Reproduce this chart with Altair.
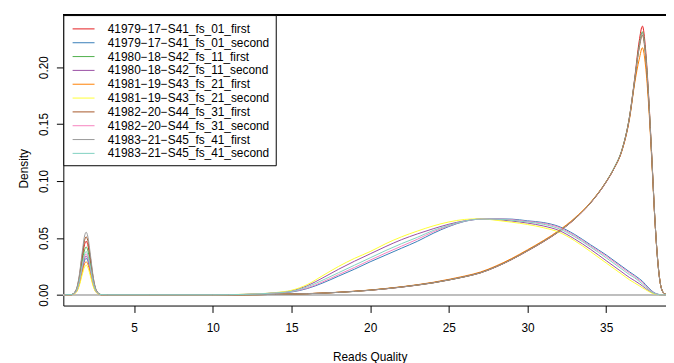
import altair as alt
import pandas as pd

QUALITY = [0.6, 1.0, 1.3, 1.5, 1.7, 1.85, 1.95, 2.05, 2.2, 2.4, 2.6, 2.9, 3.3,
           6, 10,
           12, 13, 14, 15, 16, 17, 18, 19, 20, 21, 22, 23, 24, 25, 26, 27, 28, 29, 30, 31, 32, 33, 34, 35,
           35.5, 36, 36.5, 36.8, 37.1, 37.3, 37.5, 37.7, 37.9, 38.1, 38.3, 38.5, 38.7, 38.9]

SERIES = [
    "41979\u221217\u2212S41_fs_01_first",
    "41979\u221217\u2212S41_fs_01_second",
    "41980\u221218\u2212S42_fs_11_first",
    "41980\u221218\u2212S42_fs_11_second",
    "41981\u221219\u2212S43_fs_21_first",
    "41981\u221219\u2212S43_fs_21_second",
    "41982\u221220\u2212S44_fs_31_first",
    "41982\u221220\u2212S44_fs_31_second",
    "41983\u221221\u2212S45_fs_41_first",
    "41983\u221221\u2212S45_fs_41_second",
]

COLORS = ["#E41A1C", "#377EB8", "#4DAF4A", "#984EA3", "#FF7F00",
          "#FFFF33", "#A65628", "#F781BF", "#999999", "#80D0C0"]

S41_FIRST = [0, 0.0002, 0.0035, 0.0135, 0.032, 0.0442, 0.047, 0.0442, 0.032, 0.0135, 0.0035, 0.0002, 0,
             0, 0,
             0.0001, 0.0002, 0.0004, 0.0007, 0.001, 0.0015, 0.0022, 0.003, 0.004, 0.0053, 0.0068, 0.0085,
             0.0105, 0.013, 0.0158, 0.0192, 0.0245, 0.031, 0.0385, 0.0465, 0.0555, 0.0665, 0.0805, 0.099,
             0.111, 0.127, 0.158, 0.189, 0.223, 0.236, 0.216, 0.174, 0.121, 0.065, 0.026, 0.006, 0.001, 0]
S41_SECOND = [0, 0.0001, 0.0024, 0.0092, 0.0218, 0.0301, 0.032, 0.0301, 0.0218, 0.0092, 0.0024, 0.0001, 0,
              0, 0,
              0.0003, 0.0008, 0.0015, 0.0025, 0.0055, 0.0105, 0.0165, 0.0225, 0.029, 0.035, 0.041, 0.047,
              0.054, 0.06, 0.0645, 0.0665, 0.0668, 0.0665, 0.065, 0.0635, 0.06, 0.053, 0.044, 0.035,
              0.03, 0.025, 0.02, 0.0172, 0.0142, 0.012, 0.009, 0.006, 0.0035, 0.0015, 0.0005, 0, 0, 0]
S42_FIRST = [0, 0.0002, 0.0031, 0.0121, 0.0286, 0.0395, 0.042, 0.0395, 0.0286, 0.0121, 0.0031, 0.0002, 0,
             0, 0,
             0.0001, 0.0002, 0.0004, 0.0007, 0.001, 0.0015, 0.0022, 0.003, 0.0041, 0.0054, 0.0069, 0.0086,
             0.0106, 0.0131, 0.0159, 0.0194, 0.0247, 0.0312, 0.0388, 0.0468, 0.0558, 0.0668, 0.0808, 0.0995,
             0.1115, 0.1275, 0.158, 0.188, 0.219, 0.231, 0.212, 0.172, 0.12, 0.065, 0.026, 0.006, 0.001, 0]
S42_SECOND = [0, 0.0001, 0.0025, 0.0098, 0.0231, 0.032, 0.034, 0.032, 0.0231, 0.0098, 0.0025, 0.0001, 0,
              0, 0,
              0.0004, 0.0009, 0.0018, 0.0035, 0.008, 0.015, 0.0225, 0.0295, 0.036, 0.0425, 0.0485, 0.0535,
              0.058, 0.062, 0.065, 0.0665, 0.066, 0.0648, 0.063, 0.0605, 0.0565, 0.049, 0.04, 0.03,
              0.025, 0.02, 0.015, 0.0125, 0.0098, 0.0078, 0.0056, 0.0036, 0.002, 0.0008, 0.0003, 0, 0, 0]
S43_FIRST = [0, 0.0001, 0.0021, 0.0084, 0.0197, 0.0273, 0.029, 0.0273, 0.0197, 0.0084, 0.0021, 0.0001, 0,
             0, 0,
             0.0001, 0.0002, 0.0004, 0.0008, 0.0011, 0.0016, 0.0023, 0.0032, 0.0042, 0.0056, 0.0071, 0.0089,
             0.011, 0.0136, 0.0165, 0.02, 0.0254, 0.032, 0.0396, 0.0476, 0.0566, 0.0675, 0.0812, 0.0995,
             0.111, 0.1265, 0.156, 0.185, 0.207, 0.217, 0.201, 0.166, 0.117, 0.064, 0.026, 0.006, 0.001, 0]
S43_SECOND = [0, 0.0001, 0.0019, 0.0075, 0.0177, 0.0244, 0.026, 0.0244, 0.0177, 0.0075, 0.0019, 0.0001, 0,
              0, 0,
              0.0005, 0.001, 0.002, 0.004, 0.009, 0.017, 0.025, 0.032, 0.038, 0.045, 0.051, 0.056,
              0.0605, 0.064, 0.0662, 0.0668, 0.0655, 0.0638, 0.0618, 0.059, 0.055, 0.0475, 0.038, 0.028,
              0.023, 0.018, 0.013, 0.0105, 0.008, 0.0062, 0.0046, 0.003, 0.0015, 0.0006, 0.0002, 0, 0, 0]
S44_FIRST = [0, 0.0002, 0.0038, 0.0147, 0.0347, 0.0479, 0.051, 0.0479, 0.0347, 0.0147, 0.0038, 0.0002, 0,
             0, 0,
             0.0001, 0.0002, 0.0004, 0.0007, 0.001, 0.0015, 0.0022, 0.0031, 0.0041, 0.0054, 0.0069, 0.0087,
             0.0107, 0.0132, 0.016, 0.0195, 0.0248, 0.0313, 0.0389, 0.0469, 0.0558, 0.0668, 0.0807, 0.0993,
             0.111, 0.127, 0.157, 0.187, 0.217, 0.228, 0.21, 0.17, 0.119, 0.065, 0.026, 0.006, 0.001, 0]
S44_SECOND = [0, 0.0001, 0.0027, 0.0104, 0.0245, 0.0338, 0.036, 0.0338, 0.0245, 0.0104, 0.0027, 0.0001, 0,
              0, 0,
              0.0003, 0.0008, 0.0016, 0.0028, 0.006, 0.0115, 0.0178, 0.024, 0.0305, 0.0368, 0.0428, 0.0488,
              0.0553, 0.0605, 0.0647, 0.0665, 0.0667, 0.066, 0.0645, 0.0628, 0.0592, 0.052, 0.043, 0.034,
              0.029, 0.024, 0.019, 0.0162, 0.013, 0.011, 0.008, 0.0052, 0.003, 0.0012, 0.0004, 0, 0, 0]
S45_FIRST = [0, 0.0002, 0.0041, 0.0158, 0.0374, 0.0517, 0.055, 0.0517, 0.0374, 0.0158, 0.0041, 0.0002, 0,
             0, 0,
             0.0001, 0.0002, 0.0004, 0.0007, 0.001, 0.0015, 0.0022, 0.003, 0.004, 0.0053, 0.0068, 0.0086,
             0.0106, 0.0131, 0.0159, 0.0193, 0.0246, 0.0311, 0.0387, 0.0467, 0.0557, 0.0667, 0.0806, 0.0992,
             0.1112, 0.1272, 0.1575, 0.188, 0.218, 0.23, 0.212, 0.172, 0.12, 0.065, 0.026, 0.006, 0.001, 0]
S45_SECOND = [0, 0.0002, 0.0028, 0.0109, 0.0258, 0.0357, 0.038, 0.0357, 0.0258, 0.0109, 0.0028, 0.0002, 0,
              0, 0,
              0.0004, 0.0009, 0.0017, 0.003, 0.007, 0.013, 0.0195, 0.026, 0.0325, 0.039, 0.045, 0.0505,
              0.0565, 0.061, 0.0648, 0.0665, 0.0665, 0.0655, 0.064, 0.062, 0.058, 0.051, 0.042, 0.0325,
              0.0275, 0.0225, 0.0175, 0.015, 0.0118, 0.0095, 0.007, 0.0045, 0.0025, 0.001, 0.0004, 0, 0, 0]

X_TICKS = [5, 10, 15, 20, 25, 30, 35]
Y_TICKS = [0.0, 0.05, 0.10, 0.15, 0.20]
X_DOMAIN = [0.5, 38.8]
Y_DOMAIN = [-0.0094, 0.2457]

ALL = [S41_FIRST, S41_SECOND, S42_FIRST, S42_SECOND, S43_FIRST,
       S43_SECOND, S44_FIRST, S44_SECOND, S45_FIRST, S45_SECOND]

rows = []
for name, vals in zip(SERIES, ALL):
    for q, d in zip(QUALITY, vals):
        rows.append({"series": name, "quality": q, "density": d})
df = pd.DataFrame(rows)

FONT = "Liberation Sans"

xscale = alt.Scale(domain=X_DOMAIN, nice=False, zero=False)
yscale = alt.Scale(domain=Y_DOMAIN, nice=False, zero=False)

x_enc = alt.X("quality:Q", scale=xscale,
              axis=alt.Axis(values=X_TICKS, title="Reads Quality", tickSize=7,
                            labelPadding=10, labelFontSize=12, labelFont=FONT,
                            titleFont=FONT, titleFontSize=12, titleFontWeight="normal",
                            titleX=310, titleY=55.5, titleBaseline="alphabetic",
                            titleAlign="center", grid=False, labelFlush=False))
y_enc = alt.Y("density:Q", scale=yscale,
              axis=alt.Axis(values=Y_TICKS, format=".2f", title="Density", tickSize=7,
                            labelAngle=270, labelAlign="center", labelBaseline="alphabetic",
                            labelPadding=9, labelFontSize=12, labelFont=FONT,
                            titleFont=FONT, titleFontSize=12, titleFontWeight="normal",
                            titleAngle=270, titleX=-36.5, titleY=155,
                            titleBaseline="alphabetic", titleAlign="center",
                            grid=False, labelFlush=False))

base = alt.Chart(df)

zero_line = base.mark_rule(color="#BEBEBE", strokeWidth=1).encode(
    y=alt.datum(0, scale=yscale)
)

lines = base.mark_line(strokeWidth=1, interpolate="monotone", clip=True).encode(
    x=x_enc,
    y=y_enc,
    color=alt.Color("series:N",
                    scale=alt.Scale(domain=SERIES, range=COLORS),
                    legend=alt.Legend(title=None, orient="none", legendX=0, legendY=0,
                                      direction="vertical", symbolType="M-1.5,0H1.5",
                                      symbolSize=219, symbolStrokeWidth=1,
                                      labelFont=FONT, labelFontSize=12, labelColor="black",
                                      strokeColor="black", fillColor="white",
                                      padding=6, symbolOffset=6.5, labelOffset=16.5,
                                      rowPadding=0, labelLimit=300, cornerRadius=0)),
)

top_frame = base.mark_rule(color="black", strokeWidth=1).encode(y=alt.value(0))

chart = alt.layer(zero_line, lines, top_frame).properties(
    width=610, height=294,
    autosize="none",
    padding={"left": 56, "top": 5, "right": 0, "bottom": 56},
).configure_view(stroke=None).configure_axis(
    domainColor="black", tickColor="black", labelColor="black", titleColor="black",
    domainWidth=1, tickWidth=1,
)

chart.save("out.html", embed_options={"renderer": "svg", "actions": False})
